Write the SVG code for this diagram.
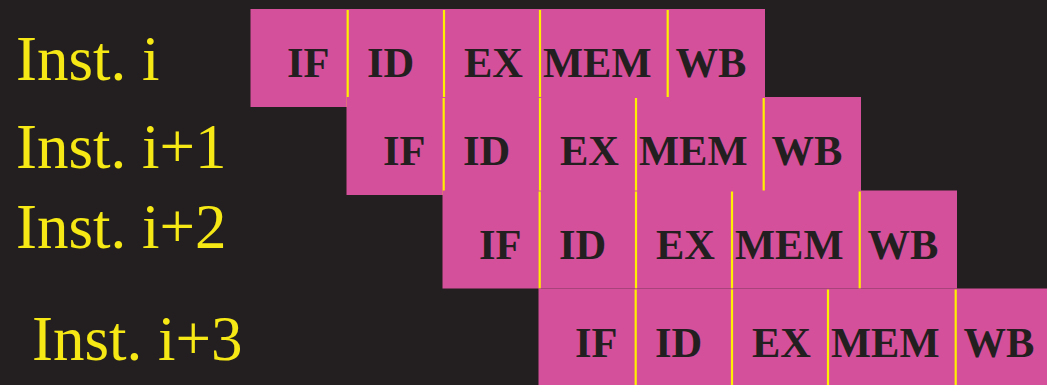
<svg xmlns="http://www.w3.org/2000/svg" width="1047" height="385" viewBox="0 0 1047 385">
<style>
.bg{fill:#231F20}
.cell{fill:#D5509A}
.div{stroke:#FFEF00;stroke-width:2.2}
.st{font-family:"Liberation Serif","Times New Roman",serif;font-weight:bold;font-size:42.5px;fill:#231F20}
.lbl{font-family:"Liberation Serif","Times New Roman",serif;font-size:63px;fill:#F5E814}
</style>
<defs>
<rect id="row" class="cell" x="0" y="0" width="514.5" height="98"/>
</defs>
<rect class="bg" x="0" y="0" width="1047" height="385"/>
<g id="labels">
<text class="lbl" x="16" y="80">Inst. i</text>
<text class="lbl" x="16" y="168">Inst. i+1</text>
<text class="lbl" x="16" y="248">Inst. i+2</text>
<text class="lbl" x="32" y="360">Inst. i+3</text>
</g>
<g id="inst-i" transform="translate(250.5,9)">
<use href="#row"/>
<g id="i0-IF"><text class="st" x="36.5" y="68">IF</text></g>
<g id="i0-ID"><line class="div" x1="97.2" y1="1" x2="97.2" y2="98"/><text class="st" x="116.5" y="68">ID</text></g>
<g id="i0-EX"><line class="div" x1="193.5" y1="1" x2="193.5" y2="98"/><text class="st" x="213.5" y="68">EX</text></g>
<g id="i0-MEM"><line class="div" x1="289.5" y1="1" x2="289.5" y2="98"/><text class="st" x="292.5" y="68">MEM</text></g>
<g id="i0-WB"><line class="div" x1="417.2" y1="1" x2="417.2" y2="98"/><text class="st" x="425" y="68">WB</text></g>
</g>
<g id="inst-i1" transform="translate(346.5,97)">
<use href="#row"/>
<g id="i1-IF"><text class="st" x="36.5" y="68">IF</text></g>
<g id="i1-ID"><line class="div" x1="97.2" y1="1" x2="97.2" y2="98"/><text class="st" x="116.5" y="68">ID</text></g>
<g id="i1-EX"><line class="div" x1="193.5" y1="1" x2="193.5" y2="98"/><text class="st" x="213.5" y="68">EX</text></g>
<g id="i1-MEM"><line class="div" x1="289.5" y1="1" x2="289.5" y2="98"/><text class="st" x="292.5" y="68">MEM</text></g>
<g id="i1-WB"><line class="div" x1="417.2" y1="1" x2="417.2" y2="98"/><text class="st" x="425" y="68">WB</text></g>
</g>
<g id="inst-i2" transform="translate(442.5,190.5)">
<use href="#row"/>
<g id="i2-IF"><text class="st" x="36.5" y="68">IF</text></g>
<g id="i2-ID"><line class="div" x1="97.2" y1="1" x2="97.2" y2="98"/><text class="st" x="116.5" y="68">ID</text></g>
<g id="i2-EX"><line class="div" x1="193.5" y1="1" x2="193.5" y2="98"/><text class="st" x="213.5" y="68">EX</text></g>
<g id="i2-MEM"><line class="div" x1="289.5" y1="1" x2="289.5" y2="98"/><text class="st" x="292.5" y="68">MEM</text></g>
<g id="i2-WB"><line class="div" x1="417.2" y1="1" x2="417.2" y2="98"/><text class="st" x="425" y="68">WB</text></g>
</g>
<g id="inst-i3" transform="translate(538.5,288.5)">
<use href="#row"/>
<g id="i3-IF"><text class="st" x="36.5" y="68">IF</text></g>
<g id="i3-ID"><line class="div" x1="97.2" y1="1" x2="97.2" y2="98"/><text class="st" x="116.5" y="68">ID</text></g>
<g id="i3-EX"><line class="div" x1="193.5" y1="1" x2="193.5" y2="98"/><text class="st" x="213.5" y="68">EX</text></g>
<g id="i3-MEM"><line class="div" x1="289.5" y1="1" x2="289.5" y2="98"/><text class="st" x="292.5" y="68">MEM</text></g>
<g id="i3-WB"><line class="div" x1="417.2" y1="1" x2="417.2" y2="98"/><text class="st" x="425" y="68">WB</text></g>
</g>
<g id="connectors"/>
</svg>
